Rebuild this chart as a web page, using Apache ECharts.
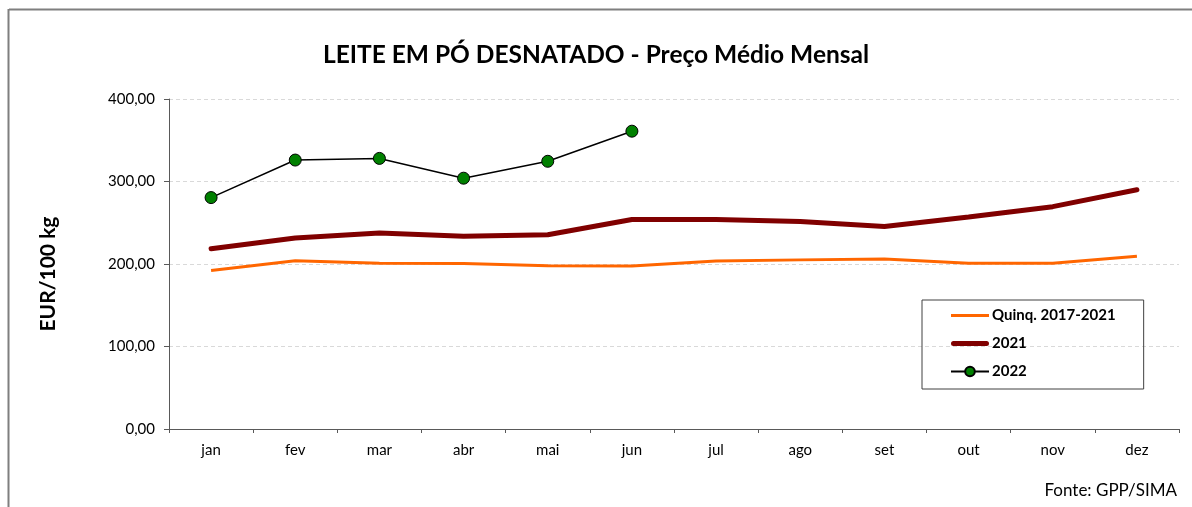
<!DOCTYPE html>
<html>
<head>
<meta charset="utf-8">
<script src="https://cdn.jsdelivr.net/npm/echarts@6/dist/echarts.min.js"></script>
<style>
  html, body { margin: 0; padding: 0; background: #fff; }
  #chart { width: 1192px; height: 507px; }
</style>
</head>
<body>
<div id="chart"></div>
<script>
const months = ['jan', 'fev', 'mar', 'abr', 'mai', 'jun', 'jul', 'ago', 'set', 'out', 'nov', 'dez']
const quinq = [192, 204, 201, 200.5, 198, 197.5, 203.5, 205, 206, 201, 201, 209.5]
const y2021 = [218.5, 231.5, 237.5, 233.5, 235.5, 254, 254, 251.5, 245.5, 257, 269.5, 290]
const y2022 = [280.5, 326, 328, 304, 324.5, 361]
const yTicks = [0, 100, 200, 300, 400]

const FONT = 'Lato, "Open Sans", sans-serif'

// legend icons: a bar in the middle of a 38x12 box (tiny corner marks keep the box size)
const CORNERS = 'M0,0L0.01,0L0,0.01Z M38,12L37.99,12L38,11.99Z '
const iconThin = 'path://' + CORNERS + 'M0,4.5L38,4.5L38,7.5L0,7.5Z'
const iconThick = 'path://' + CORNERS + 'M2.5,3.5L35.5,3.5A2.5,2.5,0,0,1,35.5,8.5L2.5,8.5A2.5,2.5,0,0,1,2.5,3.5Z'

const chart = echarts.init(document.getElementById('chart'))

chart.setOption({
  backgroundColor: '#ffffff',
  animation: false,
  textStyle: { fontFamily: FONT },
  title: {
    text: 'LEITE EM PÓ DESNATADO - Preço Médio Mensal',
    left: 'center',
    top: 38,
    textStyle: { fontFamily: FONT, fontSize: 24.5, fontWeight: 'bold', color: '#000' },
  },
  grid: { left: 169, right: 13, top: 99, bottom: 78 },
  legend: {
    orient: 'vertical',
    left: 922,
    top: 300,
    padding: [8, 28, 10, 28],
    itemWidth: 38,
    itemHeight: 12,
    itemGap: 13,
    borderColor: '#404040',
    borderWidth: 1,
    textStyle: { fontFamily: FONT, fontSize: 15, fontWeight: 'bold', color: '#000', padding: [0, 0, 0, -2] },
    data: [
      { name: 'Quinq. 2017-2021', icon: iconThin },
      { name: '2021', icon: iconThick },
      { name: '2022' },
    ],
  },
  xAxis: {
    type: 'category',
    data: months,
    boundaryGap: true,
    axisLine: { lineStyle: { color: '#595959', width: 1 } },
    axisTick: { show: true, length: 4, interval: 0, lineStyle: { color: '#595959' } },
    axisLabel: { color: '#000', fontSize: 15, margin: 14, fontFamily: FONT },
    splitLine: { show: false },
  },
  yAxis: {
    type: 'value',
    min: yTicks[0],
    max: yTicks[yTicks.length - 1],
    interval: 100,
    name: 'EUR/100 kg',
    nameLocation: 'middle',
    nameGap: 110,
    nameTextStyle: { fontFamily: FONT, fontSize: 21, fontWeight: 'bold', color: '#000', padding: [0, 20, 0, 0] },
    axisLine: { show: true, lineStyle: { color: '#595959', width: 1 } },
    axisTick: { show: true, length: 5, lineStyle: { color: '#595959' } },
    axisLabel: {
      color: '#000', fontSize: 15, margin: 14, fontFamily: FONT,
      formatter: v => v.toFixed(2).replace('.', ','),
    },
    splitLine: { show: true, lineStyle: { color: '#d9d9d9', type: [4, 3], width: 1 } },
  },
  series: [
    {
      name: 'Quinq. 2017-2021',
      type: 'line',
      data: quinq,
      symbol: 'none',
      lineStyle: { color: '#ff6600', width: 3 },
      itemStyle: { color: '#ff6600' },
      z: 2,
    },
    {
      name: '2021',
      type: 'line',
      data: y2021,
      symbol: 'none',
      lineStyle: { color: '#800000', width: 5, cap: 'round' },
      itemStyle: { color: '#800000' },
      z: 3,
    },
    {
      name: '2022',
      type: 'line',
      data: y2022,
      symbol: 'circle',
      symbolSize: 12,
      lineStyle: { color: '#000000', width: 1.5 },
      itemStyle: { color: '#008000', borderColor: '#000', borderWidth: 1 },
      z: 4,
    },
  ],
  graphic: [
    { type: 'line', shape: { x1: 9, y1: 9.5, x2: 1192, y2: 9.5 }, style: { stroke: '#7f7f7f', lineWidth: 2 } },
    { type: 'line', shape: { x1: 8.5, y1: 9, x2: 8.5, y2: 507 }, style: { stroke: '#7f7f7f', lineWidth: 2 } },
    {
      type: 'text', right: 15, top: 482,
      style: { text: 'Fonte: GPP/SIMA', font: '17px ' + FONT, fill: '#000' },
    },
  ],
})
</script>
</body>
</html>
